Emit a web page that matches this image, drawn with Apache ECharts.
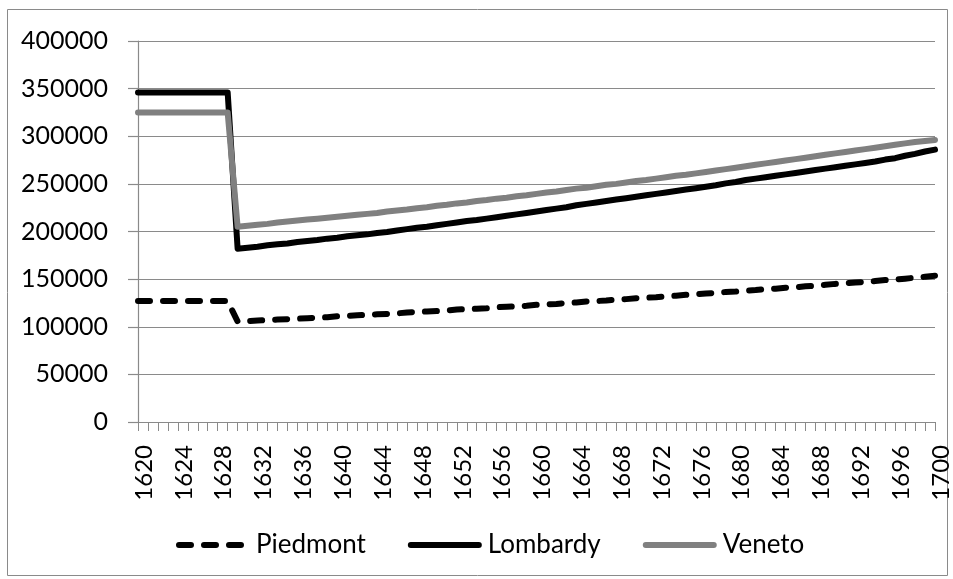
<!DOCTYPE html>
<html>
<head>
<meta charset="utf-8">
<script src="https://cdn.jsdelivr.net/npm/echarts@6/dist/echarts.min.js"></script>
<style>
  html, body { margin: 0; padding: 0; background: #fff; }
  #chart { width: 953px; height: 579px; }
</style>
</head>
<body>
<div id="chart"></div>
<script>
// years 1620..1700
const years = [
  '1620', '1621', '1622', '1623', '1624', '1625', '1626', '1627', '1628', '1629',
  '1630', '1631', '1632', '1633', '1634', '1635', '1636', '1637', '1638', '1639',
  '1640', '1641', '1642', '1643', '1644', '1645', '1646', '1647', '1648', '1649',
  '1650', '1651', '1652', '1653', '1654', '1655', '1656', '1657', '1658', '1659',
  '1660', '1661', '1662', '1663', '1664', '1665', '1666', '1667', '1668', '1669',
  '1670', '1671', '1672', '1673', '1674', '1675', '1676', '1677', '1678', '1679',
  '1680', '1681', '1682', '1683', '1684', '1685', '1686', '1687', '1688', '1689',
  '1690', '1691', '1692', '1693', '1694', '1695', '1696', '1697', '1698', '1699',
  '1700'
]

const piedmont = [
  127000, 127000, 127000, 127000, 127000, 127000, 127000, 127000, 127000, 127000,
  105500, 106000, 106500, 107000, 107500, 108000, 108500, 109000, 109500, 110000,
  111000, 111500, 112000, 112500, 113000, 113500, 114000, 115000, 115500, 116000,
  116500, 117000, 118000, 118500, 119000, 119500, 120500, 121000, 121500, 122000,
  123000, 123500, 124000, 125000, 125500, 126500, 127000, 127500, 128500, 129000,
  130000, 130500, 131000, 132000, 132500, 133500, 134000, 135000, 135500, 136500,
  137000, 138000, 138500, 139500, 140000, 141000, 141500, 142500, 143000, 144000,
  145000, 145500, 146500, 147000, 148000, 149000, 149500, 150500, 151500, 152500,
  153500
]

const lombardy = [
  346000, 346000, 346000, 346000, 346000, 346000, 346000, 346000, 346000, 346000,
  182000, 183000, 184000, 185500, 186500, 187500, 189000, 190000, 191000, 192500,
  193500, 195000, 196000, 197000, 198500, 199500, 201000, 202500, 204000, 205000,
  206500, 208000, 209500, 211000, 212000, 213500, 215000, 216500, 218000, 219500,
  221000, 222500, 224000, 225500, 227500, 229000, 230500, 232000, 233500, 235000,
  236500, 238000, 239500, 241000, 242500, 244000, 245500, 247000, 248500, 250500,
  252000, 254000, 255500, 257000, 258500, 260000, 261500, 263000, 264500, 266000,
  267500, 269000, 270500, 272000, 273500, 275500, 277000, 279500, 281500, 284000,
  286000
]

const veneto = [
  325000, 325000, 325000, 325000, 325000, 325000, 325000, 325000, 325000, 325000,
  205000, 206000, 207000, 208000, 209500, 210500, 211500, 212500, 213500, 214500,
  215500, 216500, 217500, 218500, 219500, 221000, 222000, 223000, 224500, 225500,
  227000, 228000, 229500, 230500, 232000, 233000, 234500, 235500, 237000, 238000,
  239500, 241000, 242000, 243500, 245000, 246000, 247500, 249000, 250000, 251500,
  253000, 254000, 255500, 257000, 258500, 259500, 261000, 262500, 264000, 265500,
  267000, 268500, 270000, 271500, 273000, 274500, 276000, 277500, 279000, 280500,
  282000, 283500, 285000, 286500, 288000, 289500, 291000, 292500, 294000, 295000,
  296000
]

const FONT = 'Lato'
const GRID_COLOR = '#8a8a8a'

const chart = echarts.init(document.getElementById('chart'))

const option = {
  backgroundColor: '#fff',
  animation: false,
  textStyle: { fontFamily: FONT },
  graphic: [
    {
      type: 'rect',
      shape: { x: 7.5, y: 9.5, width: 940, height: 566 },
      style: { fill: 'none', stroke: GRID_COLOR, lineWidth: 1 },
      silent: true
    }
  ],
  grid: {
    left: 138,
    right: 18,
    top: 41,
    bottom: 157
  },
  legend: {
    bottom: 16,
    left: 171,
    itemWidth: 68,
    itemHeight: 14,
    itemGap: 42,
    itemStyle: { opacity: 0 },
    lineStyle: { width: 6, cap: 'round' },
    textStyle: { fontFamily: FONT, fontSize: 26, color: '#000', padding: [0, 0, 0, 4] },
    data: ['Piedmont', 'Lombardy', 'Veneto']
  },
  xAxis: {
    type: 'category',
    data: years,
    boundaryGap: false,
    axisLine: { lineStyle: { color: GRID_COLOR, width: 1.2 } },
    axisTick: {
      show: true,
      interval: 0,
      length: 9,
      lineStyle: { color: GRID_COLOR, width: 1 }
    },
    axisLabel: {
      interval: 3,
      rotate: 90,
      margin: 23,
      formatter: '{a|{value}}',
      rich: {
        a: {
          fontFamily: FONT,
          fontSize: 24,
          color: '#000',
          padding: [12, 0, 0, 0]
        }
      }
    },
    splitLine: { show: false }
  },
  yAxis: {
    type: 'value',
    min: 0,
    max: 400000,
    interval: 50000,
    axisLine: { show: true, lineStyle: { color: GRID_COLOR, width: 1.2 } },
    axisTick: { show: true, length: 10, lineStyle: { color: GRID_COLOR, width: 1.2 } },
    axisLabel: {
      margin: 30,
      color: '#000',
      fontFamily: FONT,
      fontSize: 25,
      formatter: (v) => String(v)
    },
    splitLine: { show: true, lineStyle: { color: GRID_COLOR, width: 1.2 } }
  },
  series: [
    {
      name: 'Piedmont',
      type: 'line',
      data: piedmont,
      symbol: 'none',
      lineStyle: { color: '#000', width: 6, type: [12, 13], cap: 'round', join: 'round' },
      itemStyle: { color: '#000' }
    },
    {
      name: 'Lombardy',
      type: 'line',
      data: lombardy,
      symbol: 'none',
      lineStyle: { color: '#000', width: 6, cap: 'round', join: 'round' },
      itemStyle: { color: '#000' }
    },
    {
      name: 'Veneto',
      type: 'line',
      data: veneto,
      symbol: 'none',
      lineStyle: { color: '#808080', width: 6, cap: 'round', join: 'round' },
      itemStyle: { color: '#808080' }
    }
  ]
}

chart.setOption(option)
</script>
</body>
</html>
